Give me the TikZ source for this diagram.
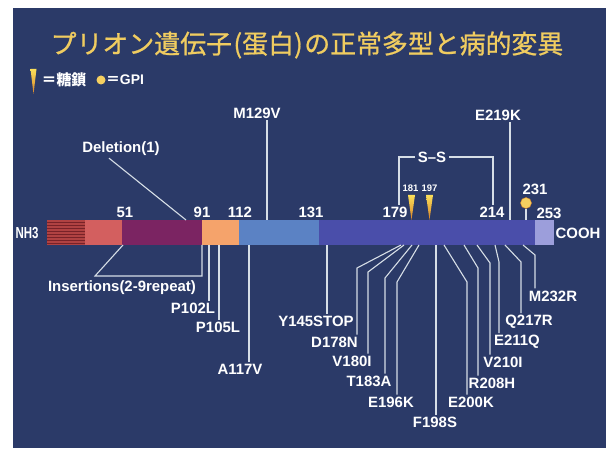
\documentclass[tikz,border=0pt]{standalone}
\usepackage{fontspec}
\setmainfont{Liberation Sans}
\newfontfamily\jp{Noto Sans CJK JP}
\newfontfamily\jpt[FakeBold=0.8]{Noto Sans CJK JP}
\newfontfamily\narrowsans[FakeStretch=0.72]{Liberation Sans}
\definecolor{bg}{RGB}{43,58,104}
\definecolor{titlec}{RGB}{240,204,96}
\definecolor{linec}{RGB}{214,222,230}
\definecolor{hatchbase}{RGB}{176,66,66}
\definecolor{hatchline}{RGB}{120,34,40}
\definecolor{segred}{RGB}{211,95,95}
\definecolor{segpurple}{RGB}{123,36,98}
\definecolor{segorange}{RGB}{245,163,107}
\definecolor{seglblue}{RGB}{91,130,196}
\definecolor{segblue}{RGB}{74,78,170}
\definecolor{seglav}{RGB}{156,158,219}
\definecolor{glyc}{RGB}{250,222,90}
\definecolor{glycb}{RGB}{215,130,40}
\definecolor{gpic}{RGB}{246,208,96}
\begin{document}
\begin{tikzpicture}[x=1bp,y=-1bp,
  lbl/.style={text=white,font=\bfseries\fontsize{15}{15}\selectfont,inner xsep=0pt,inner ysep=2bp},
  num/.style={text=white,font=\bfseries\fontsize{15}{15}\selectfont,inner xsep=0pt,inner ysep=2bp},
  small/.style={text=white,font=\bfseries\fontsize{9.5}{10}\selectfont,inner sep=0pt},
  conn/.style={draw=linec,line width=1.1bp},
  wedge/.style={top color=glyc,bottom color=glycb,draw=none}]
\useasboundingbox (0,0) rectangle (609,449);
\fill[white] (0,0) rectangle (609,449);
\fill[bg] (13,8) rectangle (606,448);

% title
\node[font=\jpt\fontsize{26}{26}\selectfont,text=titlec,inner sep=0pt] (title) at (307,45) {プリオン遺伝子\hspace{1.5bp}(蛋白)\hspace{1.5bp}の正常多型と病的変異};

% legend
\shade[wedge] (30.5,69) -- (36.5,69) -- (33.5,94) -- cycle;
\node[text=white,font=\jp\bfseries\fontsize{15}{15}\selectfont,inner sep=0pt] (legglyc) at (64,80) {＝糖鎖};
\fill[gpic] (101,80) circle (4.5);
\node[text=white,inner sep=0pt] (leggpi) at (125,80) {{\jp\bfseries\fontsize{14}{14}\selectfont ＝}{\bfseries\fontsize{14}{14}\selectfont GPI}};

% bar
\fill[hatchbase] (47,220) rectangle (85,245);
\foreach \yy in {222.5,225.5,...,243.5} \draw[hatchline,line width=0.8bp] (47,\yy) -- (85,\yy);
\fill[segred] (85,220) rectangle (122,245);
\fill[segpurple] (122,220) rectangle (202,245);
\fill[segorange] (202,220) rectangle (239,245);
\fill[seglblue] (239,220) rectangle (319,245);
\fill[segblue] (319,220) rectangle (535,245);
\fill[seglav] (535,220) rectangle (554,245);

\node[text=white,font=\narrowsans\bfseries\fontsize{16}{16}\selectfont,inner sep=0pt] (nh3) at (27,233) {NH3};
\node[lbl] (cooh) at (578,233) {COOH};

% position numbers
\node[num] (n51) at (125,212) {51};
\node[num] (n91) at (202,212) {91};
\node[num] (n112) at (240,212) {112};
\node[num] (n131) at (311,212) {131};
\node[num] (n179) at (395,212) {179};
\node[num] (n214) at (492,212) {214};
\node[num] (n253) at (549,213) {253};
\node[num] (n231) at (535,189) {231};

% glycosylation sites
\shade[wedge] (408,195) -- (415,195) -- (411.5,220) -- cycle;
\shade[wedge] (426,195) -- (433,195) -- (429.5,220) -- cycle;
\node[small] (n181) at (410.5,188.5) {181};
\node[small] (n197) at (429.5,188.5) {197};

% GPI anchor
\coordinate (bgpi) at (526,220);
\node[circle,fill=gpic,draw=glycb,line width=0.4bp,minimum size=11bp,inner sep=0pt] (gpi) at (526,203) {};
\draw[conn] (gpi.south) -- (bgpi);

% S-S bridge
\node[lbl] (ss) at (432,157) {S--S};
\draw[conn] ([xshift=4bp]n179.north) |- ([xshift=-3bp]ss.west);
\draw[conn] ([xshift=3bp]ss.east) -| ([xshift=1bp]n214.north);

% upper mutations
\node[lbl] (m129) at (257,113) {M129V};
\coordinate (b129) at (267,220);
\draw[conn] (m129.south -| b129) -- (b129);
\node[lbl] (e219) at (498,115) {E219K};
\coordinate (b219) at (510,220);
\draw[conn] (e219.south -| b219) -- (b219);
\node[lbl] (del) at (121,149) {Deletion(1)};
\coordinate (bdel) at (186,220);
\draw[conn] ([xshift=-12bp]del.south) -- (bdel);

% insertions
\coordinate (bins1) at (123,245);
\coordinate (bins2) at (202,245);
\coordinate (insL) at (95,276);
\coordinate (insR) at (202,276);
\draw[conn] (bins1) -- (insL) -- (insR) -- (bins2);
\node[lbl] (ins) at (122,288) {Insertions(2-9repeat)};

% lower mutations: straight
\node[lbl] (p102) at (193,308) {P102L};
\coordinate (b102) at (209,245);
\draw[conn] (b102) -- (b102 |- p102.north);
\node[lbl] (p105) at (218,327) {P105L};
\coordinate (b105) at (219,245);
\draw[conn] (b105) -- (b105 |- p105.north);
\node[lbl] (a117) at (240,369) {A117V};
\coordinate (b117) at (249,245);
\draw[conn] (b117) -- (b117 |- a117.north);
\node[lbl] (y145) at (316,321) {Y145STOP};
\coordinate (b145) at (327,245);
\draw[conn] (b145) -- (b145 |- y145.north);
\node[lbl] (f198) at (435,422) {F198S};
\coordinate (b198) at (436,245);
\draw[conn] (b198) -- (b198 |- f198.north);

% lower mutations: bent
\foreach \nm/\txt/\bx/\kx/\ky/\lx/\ly in {
  d178/D178N/401/357/268/334.5/342,
  v180/V180I/404/368/272/352/361,
  t183/T183A/412/385/278/369/381,
  e196/E196K/419/397/282/391/402,
  e200/E200K/444/467/282/471/402,
  r208/R208H/464/478/268/492/383,
  v210/V210I/477/490/263/503/362,
  e211/E211Q/495/499/262/517/342,
  q217/Q217R/505/521/262/529/322,
  m232/M232R/523/535/255/553/296}{
  \coordinate (b\nm) at (\bx,245);
  \coordinate (k\nm) at (\kx,\ky);
  \node[lbl] (l\nm) at (\lx,\ly) {\txt};
  \draw[conn] (b\nm) -- (k\nm) -- (k\nm |- l\nm.north);
}
\end{tikzpicture}
\end{document}
